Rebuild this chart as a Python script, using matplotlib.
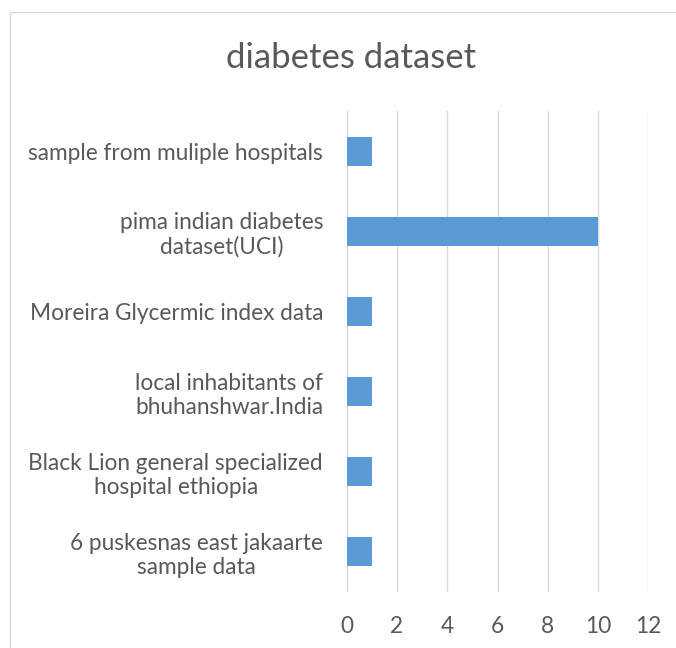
import matplotlib
matplotlib.use("Agg")
import matplotlib.pyplot as plt
from matplotlib.patches import Rectangle

categories = [
    "6 puskesnas east jakaarte\nsample data",
    "Black Lion general specialized\nhospital ethiopia",
    "local inhabitants of\nbhuhanshwar.India",
    "Moreira Glycermic index data",
    "pima indian diabetes\ndataset(UCI)",
    "sample from muliple hospitals",
]
values = [1, 1, 1, 1, 10, 1]
xticks = [0, 2, 4, 6, 8, 10, 12]
title = "diabetes dataset"

plt.rcParams['font.family'] = ['Lato', 'DejaVu Sans']
text_color = "#595959"

fig = plt.figure(figsize=(6.76, 6.48), dpi=100)
fig.patches.append(Rectangle((10/676, -0.01), 1.0, 1 - 12/648 + 0.01, transform=fig.transFigure,
                             fill=False, edgecolor="#D9D9D9", linewidth=1.0))

ax = fig.add_axes([346.7/676, 1 - 592/648, (648.3 - 346.7)/676, (592 - 111)/648])
ypos = list(range(len(categories)))
ax.barh(ypos, values, height=0.36, color="#5B9BD5", zorder=3)
ax.set_xlim(0, 12)
ax.set_ylim(-0.5, len(categories) - 0.5)
ax.set_xticks(xticks)
ax.set_xticklabels([str(t) for t in xticks])
ax.set_yticks(ypos)
ax.set_yticklabels(categories)
for lbl in ax.get_yticklabels():
    lbl.set_multialignment('center')
    lbl.set_linespacing(1.2)
ax.grid(axis='x', color="#D9D9D9", linewidth=1.0, zorder=0)
for s in ax.spines.values():
    s.set_visible(False)
ax.tick_params(axis='both', length=0, colors=text_color, labelsize=16.3)
ax.tick_params(axis='y', pad=17)
ax.tick_params(axis='x', pad=17)
fig.text(351/676, 1 - 58/648, title, ha='center', va='center', fontsize=25, color=text_color)

fig.savefig("out.png", dpi=100)
